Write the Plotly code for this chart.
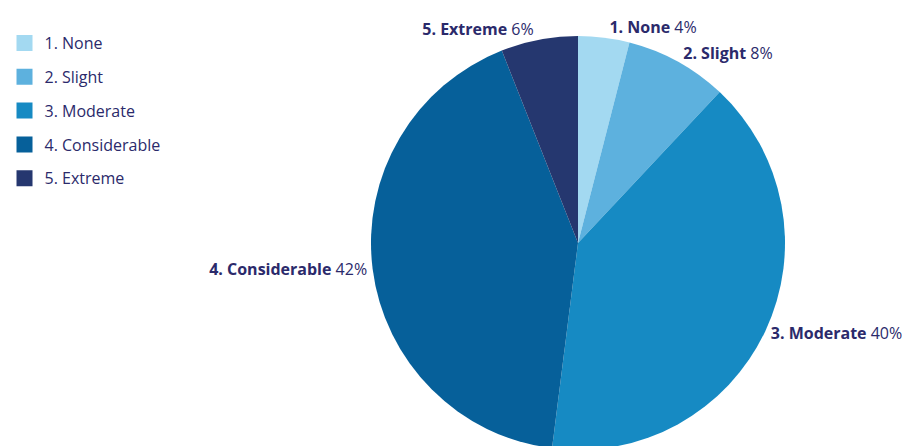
import plotly.graph_objects as go

categories = ["1. None", "2. Slight", "3. Moderate", "4. Considerable", "5. Extreme"]
shares = [4, 8, 40, 42, 6]
colors = ["#a3d9f1", "#5db1de", "#168ac3", "#06609a", "#25376f"]

TEXT = "#2b2a6b"
FONT = "Open Sans"

fig = go.Figure()
fig.add_trace(
    go.Pie(
        labels=categories,
        values=shares,
        sort=False,
        direction="clockwise",
        rotation=0,
        marker=dict(colors=colors, line=dict(width=0)),
        textposition="outside",
        texttemplate="<b>%{label}</b> %{value}%",
        textfont=dict(family=FONT, size=16, color=TEXT),
        automargin=False,
        domain=dict(x=[(578 - 207) / 902, (578 + 207) / 902], y=[0, 1]),
        hoverinfo="label+percent",
        showlegend=False,
    )
)

# legend entries (no data points, legend swatches only)
for cat, col in zip(categories, colors):
    fig.add_trace(
        go.Scatter(
            x=[None], y=[None], mode="markers", name=cat, legendgroup=cat,
            marker=dict(symbol="square", size=24, color=col),
            hoverinfo="skip",
        )
    )

fig.update_layout(
    width=902,
    height=450,
    margin=dict(l=0, r=0, t=36, b=0, autoexpand=False),
    paper_bgcolor="white",
    plot_bgcolor="white",
    xaxis=dict(visible=False),
    yaxis=dict(visible=False),
    showlegend=True,
    legend=dict(
        x=0.005, y=0.942, xref="container", yref="container",
        xanchor="left", yanchor="top",
        font=dict(family=FONT, size=16, color=TEXT),
        itemsizing="trace",
        tracegroupgap=10,
        bgcolor="rgba(0,0,0,0)",
    ),
)

fig.write_html(
    "out.html",
    config={"displayModeBar": False},
    post_script="document.body.style.margin='0';document.body.style.overflow='hidden';",
)
